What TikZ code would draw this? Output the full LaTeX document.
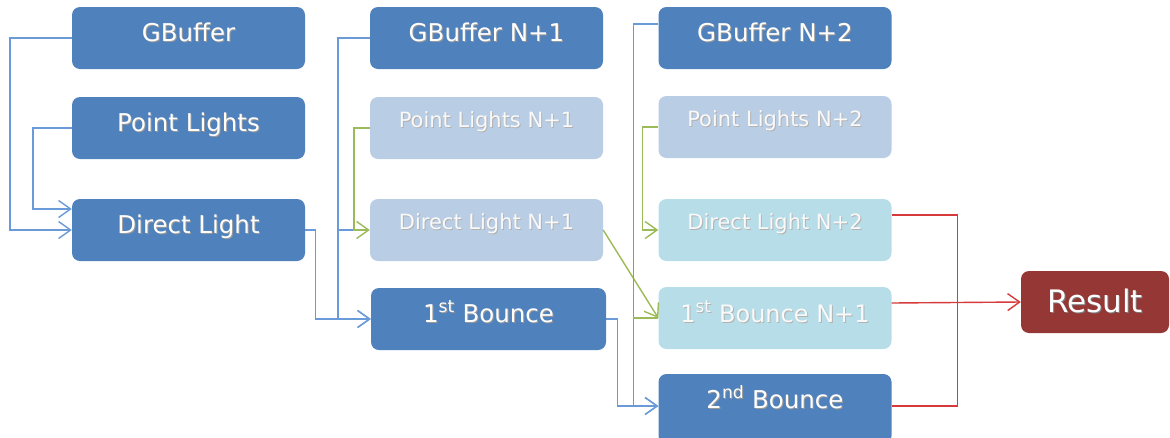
\documentclass[tikz,border=0pt]{standalone}
\usepackage{fontspec}
\setmainfont{DejaVu Sans}
\usetikzlibrary{arrows.meta}
\definecolor{dkblue}{HTML}{4F81BD}
\definecolor{ltblue}{HTML}{B9CDE5}
\definecolor{ltcyan}{HTML}{B7DEE8}
\definecolor{resred}{HTML}{953735}
\definecolor{lnblue}{HTML}{6A9BD8}
\definecolor{lngreen}{HTML}{9BBB59}
\definecolor{lnred}{HTML}{D63A3A}
\newcommand\shd[2]{\makebox[0pt][l]{\hspace{1pt}\raisebox{-1pt}{\textcolor{#1}{#2}}}#2}
\tikzset{
  boxbase/.style={rounded corners=8pt, minimum width=233pt, minimum height=62pt, inner sep=0pt, align=center},
  darkbox/.style={boxbase, fill=dkblue, text=white, font=\fontsize{24.5}{28}\selectfont, text height=16pt, text depth=10pt},
  lightbox/.style={boxbase, fill=ltblue, text=white!95!gray, font=\fontsize{21}{25}\selectfont, text height=12pt, text depth=14pt},
  cyanbox/.style={lightbox, fill=ltcyan},
  resbox/.style={boxbase, minimum width=148pt, fill=resred, text=white, font=\fontsize{31}{36}\selectfont, text height=22pt, text depth=2pt},
  arr/.style={-{Straight Barb[length=12pt,width=17pt]}},
  bl/.style={draw=lnblue, line width=1.4pt},
  gr/.style={draw=lngreen, line width=1.4pt},
  rd/.style={draw=lnred, line width=1.4pt},
}
\begin{document}
\begin{tikzpicture}[x=1pt,y=-1pt]
\useasboundingbox (0,0) rectangle (1170,437);
% column 1
\node[darkbox] (gb1) at (188.5,38) {\shd{black!40}{GBuffer}};
\node[darkbox] (pl1) at (188.5,128) {\shd{black!40}{Point Lights}};
\node[darkbox] (dl1) at (188.5,230) {\shd{black!40}{Direct Light}};
% column 2
\node[darkbox] (gb2) at (486.5,38) {\shd{black!40}{GBuffer N+1}};
\node[lightbox] (pl2) at (486.5,128) {\shd{black!30}{Point Lights N+1}};
\node[lightbox] (dl2) at (486.5,230) {\shd{black!30}{Direct Light N+1}};
\node[darkbox, minimum width=235pt] (b1) at (488.5,319) {\shd{black!40}{1\textsuperscript{st} Bounce}};
% column 3
\node[darkbox] (gb3) at (775,38) {\shd{black!40}{GBuffer N+2}};
\node[lightbox] (pl3) at (775,127) {\shd{black!30}{Point Lights N+2}};
\node[cyanbox] (dl3) at (775,230) {\shd{black!30}{Direct Light N+2}};
\node[cyanbox, font=\fontsize{24}{28}\selectfont, text height=16pt, text depth=8pt] (b1n) at (775,318) {\shd{black!30}{1\textsuperscript{st} Bounce N+1}};
\node[darkbox, minimum height=70pt, text height=14pt, text depth=16pt] (b2) at (775,409) {\shd{black!40}{2\textsuperscript{nd} Bounce}};
% result
\node[resbox] (res) at (1095,302) {\shd{black!50}{Result}};
% connectors column 1
\draw[bl,arr] (gb1.west) -- ++(-62,0) |- (dl1.west);
\draw[bl,arr] (pl1.west) -- ++(-39,0) |- ([yshift=21pt]dl1.west);
\draw[bl,arr] (dl1.east) -- ++(10,0) |- (b1.west);
% column 2
\draw[bl,arr] (gb2.west) -- ++(-32,0) |- (b1.west);
\draw[bl] (gb2.west) -- ++(-32,0) |- ([xshift=-16pt]dl2.west);
\draw[gr,arr] (pl2.west) -- ++(-16,0) |- (dl2.west);
\draw[gr,arr] (dl2.east) -- (b1n.west);
% column 3
\draw[bl,arr] ([yshift=14pt]gb3.west) -- ++(-25,0) |- ([yshift=3pt]b2.west);
\draw[gr] (b1n.west) -- ++(-25,0);
\draw[gr,arr] (pl3.west) -- ++(-16,0) |- (dl3.west);
\draw[bl,arr] (b1.east) -- ++(11,0) |- ([yshift=3pt]b2.west);
% to result
\draw[rd] ([yshift=15pt]dl3.east) -- ++(66,0) |- ([yshift=3pt]b2.east);
\draw[rd,arr] ([yshift=15pt]b1n.east) -- (res.west);
\end{tikzpicture}
\end{document}
